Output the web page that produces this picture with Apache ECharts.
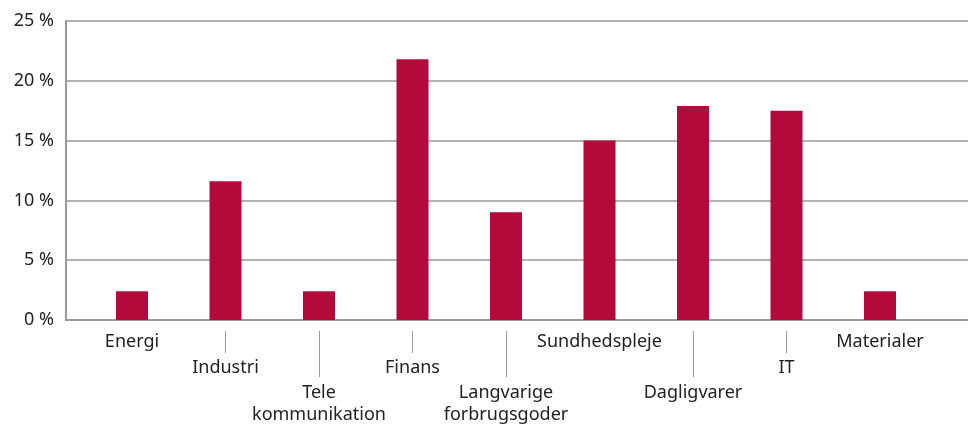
<!DOCTYPE html>
<html>
<head>
<meta charset="utf-8">
<script src="https://cdn.jsdelivr.net/npm/echarts@6/dist/echarts.min.js"></script>
<style>
  html, body { margin: 0; padding: 0; background: #fff; }
  #chart { width: 968px; height: 426px; }
</style>
</head>
<body>
<div id="chart"></div>
<script>
// sektorer og andele (%)
var sektorer = ['Energi', 'Industri', 'Tele\nkommunikation', 'Finans', 'Langvarige\nforbrugsgoder',
                'Sundhedspleje', 'Dagligvarer', 'IT', 'Materialer'];
var andele = [2.4, 11.6, 2.4, 21.8, 9.0, 15.0, 17.9, 17.5, 2.4];
// hvilken "etage" etiketten står på under aksen
var niveau = [1, 2, 3, 2, 3, 1, 3, 2, 1];
var yTicks = [0, 5, 10, 15, 20, 25];

var font = 'Noto Sans';
var graa = '#999999';

// en kategoriakse pr. niveau, kun med sine egne etiketter og streger
function labelAxis(lvl, offset, tickLen, margin) {
    return {
        type: 'category', gridIndex: 1, data: sektorer, position: 'bottom', offset: offset,
        axisLine: { show: false },
        axisTick: {
            show: tickLen > 0, alignWithLabel: true, length: tickLen,
            interval: function (i) { return niveau[i] === lvl; },
            lineStyle: { color: graa, width: 1 }
        },
        axisLabel: {
            interval: function (i) { return niveau[i] === lvl; },
            margin: margin, color: '#222', fontFamily: font, fontSize: 18, lineHeight: 22
        },
        splitLine: { show: false }
    };
}

var myChart = echarts.init(document.getElementById('chart'));
myChart.setOption({
    animation: false,
    grid: [
        { left: 66, right: 0, top: 21, bottom: 106 },
        { left: 85.25, right: 41.25, top: 21, bottom: 106 }
    ],
    xAxis: [
        { type: 'value', gridIndex: 0, min: 0, max: 1,
          axisLine: { show: true, lineStyle: { color: graa, width: 2 } },
          axisTick: { show: false }, axisLabel: { show: false }, splitLine: { show: false } },
        labelAxis(1, 0, 0, 11),
        labelAxis(2, 11, 22, 26),
        labelAxis(3, 11, 46, 51)
    ],
    yAxis: [
        { type: 'value', gridIndex: 0, min: yTicks[0], max: yTicks[yTicks.length - 1], interval: 5,
          axisLine: { show: true, lineStyle: { color: graa, width: 2 } },
          axisTick: { show: false },
          axisLabel: { margin: 12, color: '#222', fontFamily: font, fontSize: 18,
                       formatter: function (v) { return v + ' %'; } },
          splitLine: { show: true, lineStyle: { color: graa, width: 1.5 } } },
        { type: 'value', gridIndex: 1, min: yTicks[0], max: yTicks[yTicks.length - 1],
          show: false, splitLine: { show: false } }
    ],
    series: [{
        type: 'bar', xAxisIndex: 1, yAxisIndex: 1,
        data: andele, barWidth: 32,
        itemStyle: { color: '#b30a3b' }
    }]
});
</script>
</body>
</html>
